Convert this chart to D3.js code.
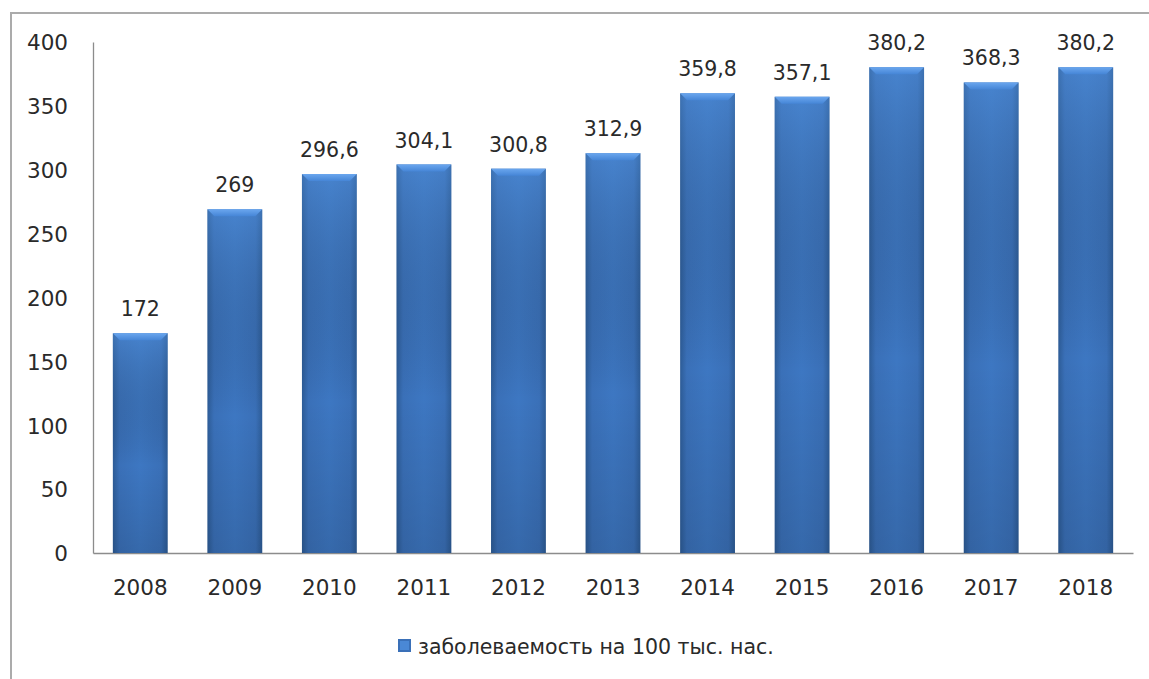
<!DOCTYPE html>
<html><head><meta charset="utf-8">
<script src="https://cdn.jsdelivr.net/npm/d3@7"></script>
<style>body{margin:0;background:#fff}svg{display:block}</style>
</head><body>
<svg id="c" width="1149" height="679"></svg>
<script>
const categories = ["2008","2009","2010","2011","2012","2013","2014","2015","2016","2017","2018"];
const values = [172, 269, 296.6, 304.1, 300.8, 312.9, 359.8, 357.1, 380.2, 368.3, 380.2];
const valueLabels = ["172","269","296,6","304,1","300,8","312,9","359,8","357,1","380,2","368,3","380,2"];
const yTicks = [0,50,100,150,200,250,300,350,400];
const seriesName = "заболеваемость на 100 тыс. нас.";

const svg = d3.select("#c");
const font = "'DejaVu Sans', sans-serif";
const txt = "#2a2a2a";

// outer frame
svg.append("rect").attr("x",11).attr("y",13).attr("width",1160).attr("height",700)
  .attr("fill","none").attr("stroke","#ababab").attr("stroke-width",2);

const x = d3.scaleBand().domain(categories).range([93,1133]).paddingInner(0.42).paddingOuter(0.21);
const y = d3.scaleLinear().domain([0,400]).range([553,42]);

const defs = svg.append("defs");
const gh = defs.append("linearGradient").attr("id","gh").attr("x1","0").attr("x2","1").attr("y1","0").attr("y2","0");
gh.append("stop").attr("offset","0").attr("stop-color","#2d5c97");
gh.append("stop").attr("offset","0.12").attr("stop-color","#3a70b8");
gh.append("stop").attr("offset","0.5").attr("stop-color","#3d77c2");
gh.append("stop").attr("offset","0.88").attr("stop-color","#3a70b8");
gh.append("stop").attr("offset","1").attr("stop-color","#2d5c97");
const gv = defs.append("linearGradient").attr("id","gv").attr("x1","0").attr("x2","0").attr("y1","0").attr("y2","1");
gv.append("stop").attr("offset","0").attr("stop-color","#5a9be6").attr("stop-opacity",0.35);
gv.append("stop").attr("offset","0.6").attr("stop-color","#000").attr("stop-opacity",0.0);
gv.append("stop").attr("offset","1").attr("stop-color","#000").attr("stop-opacity",0.12);
const gt = defs.append("linearGradient").attr("id","gt").attr("x1","0").attr("x2","0").attr("y1","0").attr("y2","1");
gt.append("stop").attr("offset","0").attr("stop-color","#6aa6ee");
gt.append("stop").attr("offset","1").attr("stop-color","#4585d6");

// y axis
const yAxis = svg.append("g").attr("transform","translate(93,0)")
  .call(d3.axisLeft(y).tickValues(yTicks).tickSize(0).tickPadding(25).tickFormat(d3.format("d")));
yAxis.select(".domain").attr("stroke","#8c8c8c").attr("stroke-width",1.3);
yAxis.selectAll("text").attr("font-family",font).attr("font-size",21.5).attr("fill",txt).attr("dy","0.36em");

// x axis
const xAxis = svg.append("g").attr("transform","translate(0,553)")
  .call(d3.axisBottom(x).tickSize(0).tickPadding(27));
xAxis.select(".domain").attr("stroke","#8c8c8c").attr("stroke-width",1.3);
xAxis.selectAll("text").attr("font-family",font).attr("font-size",21.5).attr("fill",txt);

// bars
const bw = x.bandwidth();
const bars = svg.append("g").selectAll("g").data(categories).join("g");
bars.append("rect")
  .attr("x",d=>x(d)).attr("y",(d,i)=>y(values[i]))
  .attr("width",bw).attr("height",(d,i)=>y(0)-y(values[i]))
  .attr("fill","url(#gh)");
bars.append("rect")
  .attr("x",d=>x(d)).attr("y",(d,i)=>y(values[i]))
  .attr("width",bw).attr("height",(d,i)=>y(0)-y(values[i]))
  .attr("fill","url(#gv)");
// top bevel
bars.append("path")
  .attr("d",(d,i)=>{const x0=x(d), y0=y(values[i]), b=7;
    return `M${x0},${y0}L${x0+bw},${y0}L${x0+bw-b},${y0+b}L${x0+b},${y0+b}Z`;})
  .attr("fill","url(#gt)");

// value labels
svg.append("g").selectAll("text").data(categories).join("text")
  .attr("x",d=>x(d)+bw/2).attr("y",(d,i)=>y(values[i])-17)
  .attr("text-anchor","middle").attr("font-family",font).attr("font-size",20.5).attr("fill",txt)
  .text((d,i)=>valueLabels[i]);

// legend
const lg = svg.append("g");
lg.append("rect").attr("x",398).attr("y",639).attr("width",13).attr("height",13).attr("fill","#3a70b8");
lg.append("rect").attr("x",400).attr("y",641).attr("width",9).attr("height",9).attr("fill","#4a88d6");
lg.append("text").attr("x",418).attr("y",654).attr("font-family",font).attr("font-size",20.5).attr("fill",txt).text(seriesName);
</script>
</body></html>
